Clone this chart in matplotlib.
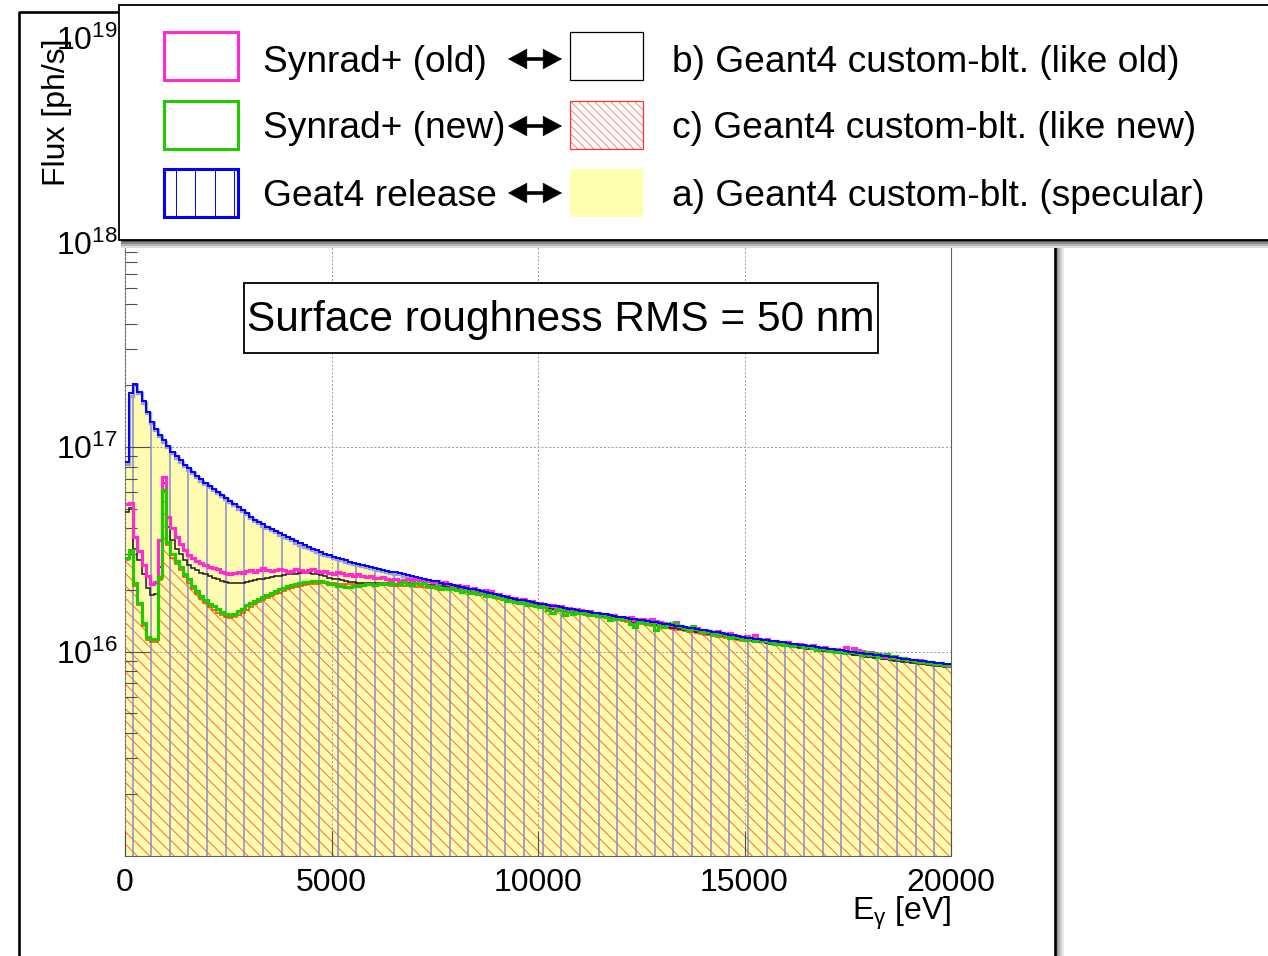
import numpy as np
import matplotlib
matplotlib.use("Agg")
import matplotlib.pyplot as plt
from matplotlib.patches import Rectangle, FancyArrowPatch
from matplotlib.collections import LineCollection
from matplotlib.lines import Line2D
from matplotlib.ticker import FixedLocator, FixedFormatter, LogLocator, NullFormatter, NullLocator

plt.rcParams['font.family'] = ['Liberation Sans', 'DejaVu Sans']
plt.rcParams['mathtext.fontset'] = 'custom'
plt.rcParams['mathtext.rm'] = 'Liberation Sans'
plt.rcParams['mathtext.it'] = 'Liberation Sans:italic'
plt.rcParams['mathtext.bf'] = 'Liberation Sans:bold'

# ---------------- data (flux in units of 1e15 ph/s, 100 eV bins, 0-20000 eV) ----------------
UNIT = 1e15
bin_width = 100
n_bins = 200

geant4_release = [
    84, 183, 203, 186, 167, 149, 133, 123, 115, 108,
    101, 95, 90, 86, 82, 78.5, 75.5, 72.5, 69.5, 67,
    64.7, 62.5, 60.3, 58.3, 56.3, 54.4, 52.6, 50.8, 49.1, 47.5,
    45.5, 44.2, 43.0, 41.9, 40.8, 39.8, 38.8, 37.9, 37.0, 36.2,
    35.4, 34.6, 33.8, 33.1, 32.4, 31.8, 31.2, 30.6, 30.1, 29.6,
    29.1, 28.7, 28.3, 27.9, 27.5, 27.2, 26.9, 26.6, 26.3, 26.0,
    25.7, 25.4, 25.1, 24.8, 24.6, 24.4, 24.2, 23.9, 23.7, 23.4,
    23.2, 22.9, 22.7, 22.4, 22.2, 22.0, 21.7, 21.5, 21.3, 21.1,
    20.9, 20.7, 20.5, 20.3, 20.1, 19.9, 19.7, 19.5, 19.3, 19.1,
    18.9, 18.7, 18.5, 18.3, 18.1, 17.9, 17.8, 17.6, 17.4, 17.3,
    17.1, 17.0, 16.8, 16.7, 16.6, 16.5, 16.3, 16.2, 16.1, 16.0,
    15.8, 15.7, 15.6, 15.5, 15.4, 15.3, 15.2, 15.1, 14.9, 14.8,
    14.7, 14.6, 14.5, 14.4, 14.3, 14.2, 14.1, 14.0, 13.9, 13.8,
    13.7, 13.6, 13.5, 13.4, 13.3, 13.2, 13.1, 13.0, 12.9, 12.8,
    12.7, 12.6, 12.5, 12.4, 12.3, 12.2, 12.1, 12.0, 11.9, 11.8,
    11.7, 11.63, 11.56, 11.49, 11.42, 11.35, 11.28, 11.21, 11.14, 11.07,
    11.0, 10.93, 10.86, 10.79, 10.72, 10.65, 10.58, 10.51, 10.44, 10.37,
    10.31, 10.25, 10.19, 10.13, 10.07, 10.0, 9.94, 9.88, 9.82, 9.76,
    9.70, 9.64, 9.58, 9.52, 9.46, 9.40, 9.35, 9.29, 9.23, 9.17,
    9.12, 9.06, 9.01, 8.95, 8.90, 8.85, 8.79, 8.74, 8.69, 8.64,
]

g4_specular = [
    83, 178, 200, 183, 164, 147, 131, 121, 113, 106,
    99.5, 93.5, 88.7, 84.7, 80.8, 77.3, 74.4, 71.4, 68.5, 66.0,
    63.7, 61.6, 59.4, 57.4, 55.5, 53.6, 51.8, 50.0, 48.4, 46.8,
    44.8, 43.5, 42.4, 41.3, 40.2, 39.2, 38.2, 37.3, 36.4, 35.7,
    34.9, 34.1, 33.3, 32.6, 31.9, 31.3, 30.7, 30.1, 29.6, 29.2,
    28.7, 28.3, 27.9, 27.5, 27.1, 26.8, 26.5, 26.2, 25.9, 25.6,
    25.3, 25.0, 24.7, 24.4, 24.2, 24.0, 23.8, 23.5, 23.3, 23.0,
    22.9, 22.6, 22.4, 22.1, 21.9, 21.7, 21.4, 21.2, 21.0, 20.8,
    20.6, 20.4, 20.2, 20.0, 19.8, 19.6, 19.4, 19.2, 19.0, 18.8,
    18.6, 18.4, 18.2, 18.0, 17.8, 17.6, 17.5, 17.3, 17.1, 17.0,
    16.8, 16.7, 16.5, 16.4, 16.4, 16.3, 16.1, 16.0, 15.9, 15.8,
    15.6, 15.5, 15.4, 15.3, 15.2, 15.1, 15.0, 14.9, 14.7, 14.6,
    14.5, 14.4, 14.3, 14.2, 14.1, 14.0, 13.9, 13.8, 13.7, 13.6,
    13.5, 13.4, 13.3, 13.2, 13.1, 13.0, 12.9, 12.8, 12.7, 12.6,
    12.5, 12.4, 12.3, 12.2, 12.1, 12.0, 11.9, 11.8, 11.7, 11.6,
    11.52, 11.45, 11.38, 11.31, 11.24, 11.17, 11.10, 11.03, 10.96, 10.89,
    10.83, 10.76, 10.69, 10.62, 10.55, 10.48, 10.41, 10.34, 10.28, 10.21,
    10.15, 10.09, 10.03, 9.97, 9.91, 9.85, 9.79, 9.73, 9.67, 9.61,
    9.55, 9.49, 9.43, 9.37, 9.31, 9.25, 9.20, 9.14, 9.08, 9.03,
    8.98, 8.92, 8.87, 8.81, 8.76, 8.71, 8.66, 8.61, 8.56, 8.51,
]

g4_like_new = [
    28.0, 30.3, 21.0, 16.8, 13.4, 11.4, 11.1, 11.1, 22.4, 60.0,
    33.0, 28.8, 26.8, 24.9, 23.1, 21.7, 20.3, 19.1, 18.0, 17.2,
    16.5, 16.0, 15.5, 15.1, 14.7, 14.6, 14.7, 15.0, 15.5, 16.0,
    16.5, 17.0, 17.4, 17.8, 18.2, 18.6, 19.0, 19.4, 19.8, 20.1,
    20.4, 20.7, 20.9, 21.1, 21.3, 21.4, 21.5, 21.6, 21.6, 21.6,
    21.6, 21.5, 21.5, 21.4, 21.4, 21.4, 21.3, 21.3, 21.3, 21.2,
    21.2, 21.2, 21.1, 21.1, 21.0, 21.0, 20.9, 20.9, 20.8, 20.8,
    20.7, 20.7, 20.6, 20.5, 20.4, 20.3, 20.2, 20.1, 20.0, 19.9,
    19.8, 19.6, 19.5, 19.3, 19.1, 19.0, 18.8, 18.6, 18.4, 18.3,
    18.1, 17.9, 17.7, 17.6, 17.4, 17.2, 17.1, 16.9, 16.7, 16.6,
    16.4, 16.3, 16.1, 16.0, 15.9, 15.8, 15.6, 15.5, 15.4, 15.3,
    15.2, 15.1, 15.0, 14.9, 14.8, 14.7, 14.6, 14.5, 14.3, 14.2,
    14.1, 14.0, 13.9, 13.8, 13.7, 13.6, 13.5, 13.4, 13.3, 13.2,
    13.1, 13.0, 12.9, 12.8, 12.7, 12.6, 12.5, 12.4, 12.3, 12.2,
    12.1, 12.0, 11.9, 11.8, 11.75, 11.65, 11.55, 11.45, 11.35, 11.25,
    11.40, 11.33, 11.26, 11.19, 11.12, 11.05, 10.98, 10.91, 10.84, 10.77,
    10.70, 10.63, 10.56, 10.49, 10.42, 10.35, 10.28, 10.21, 10.14, 10.08,
    10.02, 9.96, 9.90, 9.84, 9.78, 9.72, 9.66, 9.60, 9.54, 9.48,
    9.42, 9.36, 9.30, 9.24, 9.18, 9.12, 9.07, 9.02, 8.96, 8.91,
    8.86, 8.81, 8.76, 8.70, 8.65, 8.60, 8.55, 8.50, 8.46, 8.41,
]

g4_like_old = [
    48.3, 50.5, 31.7, 28.0, 24.0, 20.5, 18.9, 19.0, 26.0, 66.4,
    40.8, 35.1, 31.6, 30.0, 28.0, 26.5, 25.6, 24.9, 24.3, 23.8,
    23.5, 23.0, 22.6, 22.2, 21.9, 21.7, 21.6, 21.6, 21.7, 21.9,
    22.1, 22.3, 22.5, 22.7, 22.9, 23.1, 23.3, 23.5, 23.6, 23.8,
    23.9, 24.0, 24.1, 24.1, 24.1, 24.0, 23.8, 23.6, 23.3, 23.0,
    22.7, 22.5, 22.3, 22.1, 21.9, 21.8, 21.7, 21.6, 21.6, 21.6,
    21.6, 21.6, 21.6, 21.6, 21.6, 21.5, 21.5, 21.6, 21.6, 21.5,
    21.5, 21.4, 21.3, 21.2, 21.1, 21.0, 20.9, 20.8, 20.7, 20.5,
    20.4, 20.2, 20.0, 19.8, 19.6, 19.4, 19.2, 19.0, 18.8, 18.6,
    18.4, 18.2, 18.0, 17.8, 17.6, 17.5, 17.3, 17.1, 17.0, 16.8,
    16.6, 16.5, 16.3, 16.2, 16.1, 16.0, 15.8, 15.7, 15.6, 15.5,
    15.4, 15.3, 15.2, 15.1, 15.0, 14.9, 14.8, 14.7, 14.5, 14.4,
    14.3, 14.2, 14.1, 14.0, 13.9, 13.8, 13.7, 13.6, 13.5, 13.4,
    13.3, 13.2, 13.1, 13.0, 12.9, 12.8, 12.7, 12.6, 12.5, 12.4,
    12.3, 12.2, 12.1, 12.0, 11.95, 11.85, 11.75, 11.65, 11.55, 11.45,
    11.35, 11.28, 11.21, 11.14, 11.07, 11.0, 10.93, 10.86, 10.79, 10.72,
    10.66, 10.59, 10.52, 10.45, 10.38, 10.31, 10.24, 10.17, 10.10, 10.04,
    9.98, 9.92, 9.86, 9.80, 9.74, 9.68, 9.62, 9.56, 9.50, 9.44,
    9.38, 9.32, 9.26, 9.20, 9.14, 9.08, 9.03, 8.98, 8.93, 8.88,
    8.83, 8.78, 8.73, 8.68, 8.63, 8.58, 8.53, 8.48, 8.43, 8.38,
]

synrad_old = [
    52.7, 53.5, 36.5, 31.0, 26.5, 23.5, 21.3, 21.8, 35.0, 71.6,
    45.7, 40.0, 36.3, 33.5, 31.5, 29.5, 28.5, 27.8, 27.0, 26.4,
    26.0, 25.6, 25.2, 24.5, 24.2, 24.0, 24.3, 24.6, 24.2, 24.8,
    25.0, 24.6, 24.9, 25.5, 25.1, 24.7, 24.9, 25.3, 25.0, 24.6,
    24.8, 25.2, 25.0, 24.5, 24.9, 25.3, 24.8, 24.4, 24.7, 24.3,
    24.0, 24.4, 24.1, 23.7, 23.9, 23.5, 23.8, 23.4, 23.2, 23.5,
    23.0, 22.8, 23.1, 22.6, 22.3, 22.5, 22.1, 22.4, 22.6, 22.3,
    22.7, 22.4, 22.6, 22.1, 21.9, 22.2, 21.6, 21.8, 21.4, 21.2,
    21.1, 20.6, 20.8, 20.2, 20.4, 19.9, 19.8, 20.0, 19.8, 19.2,
    19.0, 18.6, 18.7, 18.2, 18.3, 17.9, 18.0, 17.5, 17.6, 17.3,
    17.2, 17.0, 16.7, 16.9, 16.5, 16.6, 16.2, 16.3, 16.0, 16.1,
    15.9, 15.6, 15.8, 15.4, 15.5, 15.2, 15.3, 15.0, 15.1, 14.7,
    14.8, 14.6, 14.7, 14.3, 14.4, 14.5, 14.3, 14.4, 14.1, 13.9,
    13.8, 13.5, 13.7, 13.9, 13.3, 13.2, 13.1, 12.9, 13.0, 12.8,
    12.8, 12.6, 12.5, 12.6, 12.3, 12.2, 12.3, 12.0, 11.9, 11.8,
    11.9, 11.6, 12.0, 11.5, 11.4, 11.5, 11.2, 11.3, 11.1, 11.0,
    11.1, 10.9, 10.8, 10.9, 10.7, 10.6, 10.7, 10.5, 10.4, 10.5,
    10.3, 10.2, 10.3, 10.1, 10.5, 10.0, 10.4, 10.2, 10.1, 9.8,
    10.0, 9.6, 9.7, 9.5, 9.4, 9.5, 9.3, 9.2, 9.3, 9.1,
    9.1, 9.0, 9.1, 8.9, 8.9, 8.8, 8.8, 8.7, 8.6, 8.5,
]

synrad_new = [
    28.7, 31.4, 21.6, 17.3, 13.8, 11.8, 11.5, 11.5, 23.2, 61.6,
    34.4, 30.0, 27.8, 25.8, 24.0, 22.5, 21.0, 19.8, 18.6, 17.8,
    17.1, 16.6, 16.1, 15.6, 15.2, 15.1, 15.3, 15.7, 16.2, 16.8,
    17.3, 17.7, 18.1, 18.5, 18.9, 19.3, 19.7, 20.1, 20.4, 20.8,
    21.1, 21.4, 21.6, 21.8, 21.9, 22.0, 22.1, 22.1, 21.8, 21.5,
    21.3, 21.0, 20.8, 20.7, 20.7, 20.8, 21.0, 21.2, 21.3, 21.4,
    21.2, 21.5, 21.7, 21.5, 21.6, 21.4, 21.5, 21.9, 21.4, 21.2,
    21.6, 21.3, 21.6, 21.0, 20.6, 20.9, 20.2, 20.5, 20.1, 20.4,
    20.0, 19.6, 19.9, 19.4, 19.5, 19.0, 19.2, 18.6, 18.9, 18.5,
    18.4, 18.1, 17.6, 17.9, 17.5, 17.2, 17.4, 16.9, 17.1, 16.7,
    16.5, 16.6, 16.0, 15.5, 15.9, 16.1, 15.0, 15.6, 15.2, 15.6,
    15.4, 15.5, 15.1, 15.3, 14.9, 15.2, 14.7, 14.3, 14.6, 14.5,
    14.4, 14.5, 13.7, 13.2, 13.9, 14.0, 13.6, 13.9, 12.8, 13.5,
    13.2, 13.6, 13.8, 13.7, 13.4, 13.1, 12.8, 13.3, 12.9, 12.6,
    12.5, 12.6, 12.2, 12.0, 12.3, 12.1, 11.7, 11.9, 11.8, 11.5,
    11.4, 11.6, 11.3, 11.5, 11.2, 11.3, 11.1, 10.9, 11.0, 10.8,
    10.9, 10.6, 10.7, 10.8, 10.5, 10.6, 10.4, 10.2, 10.4, 10.3,
    10.1, 10.2, 10.0, 10.1, 9.8, 9.9, 10.1, 9.8, 9.6, 9.9,
    9.6, 9.8, 9.4, 9.6, 9.7, 9.3, 9.5, 9.2, 9.3, 9.1,
    9.1, 9.0, 8.9, 9.0, 8.8, 8.9, 8.7, 8.8, 8.6, 8.6,
]

xtick_vals = [0, 5000, 10000, 15000, 20000]
xtick_labels = ["0", "5000", "10000", "15000", "20000"]
ytick_vals = [1e16, 1e17, 1e18, 1e19]
ytick_labels = [r"$\mathregular{10^{16}}$", r"$\mathregular{10^{17}}$",
                r"$\mathregular{10^{18}}$", r"$\mathregular{10^{19}}$"]

legend_left = ["Synrad+ (old)", "Synrad+ (new)", "Geat4 release"]
legend_right = ["b) Geant4 custom-blt. (like old)", "c) Geant4 custom-blt. (like new)",
                "a) Geant4 custom-blt. (specular)"]
annotation = "Surface roughness RMS = 50 nm"

# ---------------- styling ----------------
YELLOW = "#fffcb2"
MAGENTA = "#ff2ad0"
GREEN = "#22c800"
BLUE = "#0000ff"
RED = "#ff3c00"
BLACK = "#1a1a1a"
SPEC_EDGE = "#a0a0c8"
RED_HATCH = "#ff7a3a"
BLUE_HATCH = "#8a8acc"

W, H = 1268, 956
fig = plt.figure(figsize=(W / 100, H / 100), dpi=100)


def fx(p):
    return p / W


def fy(p):
    return 1 - p / H


AX_L, AX_R, AX_T, AX_B = 125, 951, 38, 856
ax = fig.add_axes([fx(AX_L), fy(AX_B), (AX_R - AX_L) / W, (AX_B - AX_T) / H])
ax.set_yscale("log")
ax.set_xlim(0, 20000)
ax.set_ylim(1e15, 1e19)

edges = np.arange(n_bins + 1) * bin_width
blue = np.array(geant4_release) * UNIT
spec = np.array(g4_specular) * UNIT
cnew = np.array(g4_like_new) * UNIT
bold = np.array(g4_like_old) * UNIT
sold = np.array(synrad_old) * UNIT
snew = np.array(synrad_new) * UNIT

# a) specular: yellow fill
ax.stairs(spec, edges, baseline=1e13, fill=True, facecolor=YELLOW, edgecolor="none", zorder=1.0)

# c) like new: red diagonal hatching
red_patch = ax.stairs(cnew, edges, baseline=1e13, fill=True, facecolor="none", edgecolor="none", zorder=1.1)
Wpx, Hpx = AX_R - AX_L, AX_B - AX_T
segs = []
sp = 12.3
x0 = -Hpx
while x0 < Wpx + sp:
    segs.append([(x0 / Wpx, 1.0), ((x0 + Hpx) / Wpx, 0.0)])
    x0 += sp
lc = LineCollection(segs, colors=RED_HATCH, linewidths=0.8, transform=ax.transAxes, zorder=1.2)
ax.add_collection(lc, autolim=False)
lc.set_clip_path(red_patch)

# Geant4 release: blue vertical hatching
blue_patch = ax.stairs(blue, edges, baseline=1e13, fill=True, facecolor="none", edgecolor="none", zorder=1.3)
vsegs = []
xv = 7.5
while xv < Wpx:
    vsegs.append([(xv / Wpx, 0.0), (xv / Wpx, 1.0)])
    xv += 18.65
vlc = LineCollection(vsegs, colors=BLUE_HATCH, linewidths=1.1, transform=ax.transAxes, zorder=1.4)
ax.add_collection(vlc, autolim=False)
vlc.set_clip_path(blue_patch)

# outlines
ax.stairs(spec, edges, baseline=None, color=SPEC_EDGE, lw=2.4, zorder=1.5)
ax.stairs(cnew, edges, baseline=None, color=RED, lw=1.1, zorder=3.0)
ax.stairs(bold, edges, baseline=None, color=BLACK, lw=1.1, zorder=3.2)
ax.stairs(sold, edges, baseline=None, color=MAGENTA, lw=2.3, zorder=3.4)
ax.stairs(snew, edges, baseline=None, color=GREEN, lw=2.3, zorder=3.6)
ax.stairs(blue, edges, baseline=None, color=BLUE, lw=1.4, zorder=3.8)

# axes styling
ax.set_axisbelow(False)
ax.grid(True, which="major", linestyle=(0, (2, 2)), color="#9a9a9a", lw=0.7)
ax.xaxis.set_major_locator(FixedLocator(xtick_vals))
ax.xaxis.set_major_formatter(FixedFormatter(xtick_labels))
ax.xaxis.set_minor_locator(NullLocator())
ax.yaxis.set_major_locator(FixedLocator(ytick_vals))
ax.yaxis.set_major_formatter(FixedFormatter(ytick_labels))
ax.yaxis.set_minor_locator(LogLocator(base=10, subs=np.arange(2, 10), numticks=50))
ax.yaxis.set_minor_formatter(NullFormatter())
ax.tick_params(which="both", direction="in", top=False, right=False, color="#505050", width=0.8)
ax.tick_params(which="major", length=18, labelsize=23)
ax.tick_params(which="minor", length=8.6)
ax.tick_params(axis="x", pad=8.5)
ax.tick_params(axis="y", pad=5)
for s in ax.spines.values():
    s.set_color("#606060")
    s.set_linewidth(0.8)

# axis titles
fig.text(fx(57), fy(AX_T), "Flux [ph/s]", rotation=90, ha="center", va="top", fontsize=23)
fig.text(fx(951), fy(913), r"E$_{\mathregular{γ}}$ [eV]", ha="right", va="center", fontsize=23)

# annotation box
fig.add_artist(Rectangle((fx(244), fy(353)), fx(878) - fx(244), fy(283) - fy(353),
                         transform=fig.transFigure, facecolor="white", edgecolor="black", lw=1.3, zorder=4))
fig.text(fx(561), fy(320), annotation, ha="center", va="center", fontsize=30.5, zorder=5)

# outer pad frame with shadow
for i, c in enumerate(["#909090", "#b0b0b0", "#d0d0d0", "#e8e8e8"]):
    fig.add_artist(Rectangle((fx(1056 + 2 * i), 0), 2 / W, fy(14), transform=fig.transFigure,
                             facecolor=c, edgecolor="none", zorder=3))
fig.add_artist(Line2D([fx(19), fx(19), fx(1055), fx(1055)], [0, fy(12), fy(12), 0],
                      transform=fig.transFigure, color="black", lw=1.9, zorder=3.5))

# legend box with shadow
LX0, LY0, LX1, LY1 = 119, 5, 1290, 240
for i, c in enumerate(["#555555", "#8a8a8a", "#b5b5b5", "#dddddd"]):
    fig.add_artist(Rectangle((fx(LX0 + 2), fy(LY1 + 2 + 2 * i)), fx(LX1) - fx(LX0), 2 / H,
                             transform=fig.transFigure, facecolor=c, edgecolor="none", zorder=6))
fig.add_artist(Rectangle((fx(LX0), fy(LY1)), fx(LX1) - fx(LX0), fy(LY0) - fy(LY1),
                         transform=fig.transFigure, facecolor="white", edgecolor="black", lw=1.3, zorder=7))

rows_y = [56, 125, 193]
box_h = 48
text_y = [62, 129, 196]
arrow_y = [59, 126, 193]
left_colors = [MAGENTA, GREEN, BLUE]
for i in range(3):
    yc = rows_y[i]
    # left sample box
    r = Rectangle((fx(164), fy(yc + box_h / 2)), fx(238) - fx(164), box_h / H, transform=fig.transFigure,
                  facecolor="white", edgecolor=left_colors[i], lw=2.2, zorder=8)
    fig.add_artist(r)
    if i == 2:
        xl = 176
        while xl < 238:
            fig.add_artist(Line2D([fx(xl), fx(xl)], [fy(yc + box_h / 2 - 1), fy(yc - box_h / 2 + 1)],
                                  transform=fig.transFigure, color=BLUE, lw=0.7, zorder=8.5))
            xl += 19.4
    fig.text(fx(263), fy(text_y[i]), legend_left[i], ha="left", va="center", fontsize=26.7, zorder=9)
    # double arrow: shaft + two filled heads
    ay = arrow_y[i]
    fig.add_artist(Line2D([fx(518), fx(552)], [fy(ay), fy(ay)], transform=fig.transFigure,
                          color="black", lw=2.6, zorder=9, solid_capstyle="butt"))
    fig.add_artist(FancyArrowPatch((fx(530), fy(ay)), (fx(508), fy(ay)), transform=fig.transFigure,
                                   arrowstyle="-|>,head_length=0.65,head_width=0.35", mutation_scale=20,
                                   lw=0.5, color="black", zorder=9, shrinkA=0, shrinkB=0))
    fig.add_artist(FancyArrowPatch((fx(540), fy(ay)), (fx(562), fy(ay)), transform=fig.transFigure,
                                   arrowstyle="-|>,head_length=0.65,head_width=0.35", mutation_scale=20,
                                   lw=0.5, color="black", zorder=9, shrinkA=0, shrinkB=0))
    # right sample box
    bx0, bx1 = 570, 643
    if i == 0:
        rb = Rectangle((fx(bx0), fy(yc + box_h / 2)), fx(bx1) - fx(bx0), box_h / H, transform=fig.transFigure,
                       facecolor="white", edgecolor="black", lw=0.9, zorder=8)
        fig.add_artist(rb)
    elif i == 1:
        rb = Rectangle((fx(bx0), fy(yc + box_h / 2)), fx(bx1) - fx(bx0), box_h / H, transform=fig.transFigure,
                       facecolor="white", edgecolor="#ff3030", lw=0.9, zorder=8)
        fig.add_artist(rb)
        hsegs = []
        xs = bx0 - box_h
        while xs < bx1:
            hsegs.append([(fx(xs), fy(yc - box_h / 2)), (fx(xs + box_h), fy(yc + box_h / 2))])
            xs += 8
        hl = LineCollection(hsegs, colors="#ff5050", linewidths=0.5, transform=fig.transFigure, zorder=8.5)
        fig.add_artist(hl)
        hl.set_clip_path(rb)
    else:
        rb = Rectangle((fx(bx0), fy(yc + box_h / 2)), fx(bx1) - fx(bx0), box_h / H, transform=fig.transFigure,
                       facecolor="#ffffb0", edgecolor="none", zorder=8)
        fig.add_artist(rb)
    fig.text(fx(672), fy(text_y[i]), legend_right[i], ha="left", va="center", fontsize=26.7, zorder=9)

fig.savefig("out.png", dpi=100)
